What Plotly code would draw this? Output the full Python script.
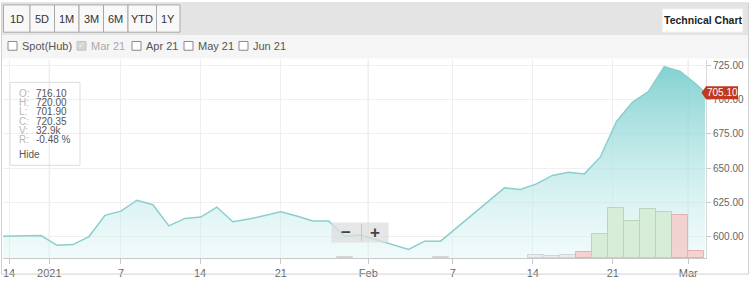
import plotly.graph_objects as go

# ---------------- data ----------------
price_index = list(range(-3, 42))
price = [600.0, 600.0, 600.0, 600.5, 593.4, 593.9, 599.8, 615.3, 618.4, 626.4,
         623.1, 607.6, 613.1, 614.1, 621.4, 610.7, 612.6, 615.1, 617.9, 614.8,
         611.2, 611.2, 600.0, 601.0, 597.4, 593.9, 590.3, 596.4, 596.4, 606.2,
         616.2, 626.2, 635.5, 634.3, 638.4, 644.6, 646.9, 645.7, 658.1, 683.9,
         698.1, 706.0, 724.3, 720.7, 711.3]
last_index = 41.55
last_price = 705.10

volume_index = [19, 25, 31, 32, 33, 34, 35, 36, 37, 38, 39, 40, 41]
volume_k = [0.7, 0.7, 1.9, 1.2, 1.9, 4.2, 17.6, 35.9, 26.5, 35.2, 32.9, 31.3, 4.7]
volume_dir = ["flat", "flat", "flat", "flat", "flat", "down", "up", "up", "up",
              "up", "up", "down", "down"]

tick_index = [-2.0, 0.52, 5.0, 9.95, 15.0, 20.48, 25.76, 30.77, 35.78, 40.5]
tick_labels = ["14", "2021", "7", "14", "21", "Feb", "7", "14", "21", "Mar"]
month_labels = ["2021", "Feb", "Mar"]
y_ticks = [600, 625, 650, 675, 700, 725]

ohlc_labels = ["O:", "H:", "L:", "C:", "V:", "R:"]
ohlc_values = ["716.10", "720.00", "701.90", "720.35", "32.9k", "-0.48 %"]

range_buttons = ["1D", "5D", "1M", "3M", "6M", "YTD", "1Y"]
contracts = ["Spot(Hub)", "Mar 21", "Apr 21", "May 21", "Jun 21"]
contract_checked = [False, True, False, False, False]

# ---------------- geometry ----------------
W, H = 750, 282
ML, MR, MT, MB = 3, 44, 60, 19
PW, PH = W - ML - MR, H - MT - MB
FONT = "Arial, Liberation Sans, sans-serif"


def px(x):
    return (x - ML) / PW


def py(y):
    return (H - MB - y) / PH


def label(x, y, text, size, color, xanchor="center", family=FONT, yref="paper"):
    return dict(xref="paper", yref=yref, x=px(x), y=(py(y) if yref == "paper" else y),
                xanchor=xanchor, yanchor="middle", text=text, showarrow=False,
                font=dict(family=family, size=size, color=color))


fig = go.Figure()

# area + line
xs = price_index + [last_index]
ys = price + [last_price]
fig.add_trace(go.Scatter(
    x=xs, y=ys, mode="lines", fill="tozeroy",
    line=dict(color="rgb(138,206,206)", width=1.5),
    fillgradient=dict(type="vertical", start=584, stop=725,
                      colorscale=[[0, "rgba(220,244,244,0.35)"],
                                  [0.35, "rgba(190,232,232,0.6)"],
                                  [1, "rgba(115,203,203,0.88)"]]),
    hoverinfo="skip", showlegend=False))

# volume bars
fill_map = {"up": "rgba(214,236,214,0.95)", "down": "rgba(242,208,206,0.95)",
            "flat": "rgba(232,236,236,0.95)"}
line_map = {"up": "#b9d6b9", "down": "#e2b2ae", "flat": "#d0d6d6"}
fig.add_trace(go.Bar(
    x=volume_index, y=volume_k, yaxis="y2", width=1,
    marker=dict(color=[fill_map[d] for d in volume_dir],
                line=dict(color=[line_map[d] for d in volume_dir], width=1)),
    hoverinfo="skip", showlegend=False))

shapes = []
annotations = []

# month boundary lines (darker)
for t, lab in zip(tick_index, tick_labels):
    if lab in month_labels:
        shapes.append(dict(type="line", xref="x", yref="paper", x0=t, x1=t,
                           y0=0, y1=1, line=dict(color="#cfcfcf", width=1),
                           layer="below"))

# toolbar backgrounds
shapes.append(dict(type="rect", xref="paper", yref="paper",
                   x0=px(2), x1=px(748), y0=py(2), y1=py(34.5),
                   fillcolor="#e4e4e4", line=dict(width=0), layer="below"))
shapes.append(dict(type="rect", xref="paper", yref="paper",
                   x0=px(2), x1=px(748), y0=py(34.5), y1=py(58.5),
                   fillcolor="#f5f5f5", line=dict(width=0), layer="below"))
# outer border
shapes.append(dict(type="rect", xref="paper", yref="paper",
                   x0=px(1.5), x1=px(748.5), y0=py(1.5), y1=py(279.5),
                   line=dict(color="#d0d0d0", width=1)))

# range buttons
bx = [3.5, 30, 54.5, 79, 103.5, 128, 156.5, 180]
for i, lab in enumerate(range_buttons):
    x0, x1 = bx[i], bx[i + 1]
    shapes.append(dict(type="rect", xref="paper", yref="paper",
                       x0=px(x0), x1=px(x1), y0=py(3.5), y1=py(31.5),
                       fillcolor="#f8f8f8", line=dict(color="#a8a8a8", width=1)))
    annotations.append(label((x0 + x1) / 2, 18, lab, 11, "#333333"))

# Technical chart button
shapes.append(dict(type="rect", xref="paper", yref="paper",
                   x0=px(662), x1=px(743), y0=py(7.5), y1=py(31.5),
                   fillcolor="#ffffff", line=dict(color="#e8e8e8", width=1)))
annotations.append(label(702.5, 19.5, "<b>Technical Chart</b>", 10.5, "#222222"))

# contract checkboxes
cb_x = [8, 77, 132, 184, 239]
for x0, lab, chk in zip(cb_x, contracts, contract_checked):
    shapes.append(dict(type="rect", xref="paper", yref="paper",
                       x0=px(x0), x1=px(x0 + 9), y0=py(41), y1=py(50),
                       fillcolor="#d4d4d4" if chk else "#ffffff",
                       line=dict(color="#c4c4c4" if chk else "#8a8a8a", width=1)))
    if chk:
        annotations.append(label(x0 + 4.5, 45.5, "✓", 8, "#f4f4f4",
                                 family="DejaVu Sans"))
    annotations.append(label(x0 + 11.5, 45.5, lab, 11,
                             "#aaaaaa" if chk else "#555555", xanchor="left"))

# OHLC info box
shapes.append(dict(type="rect", xref="paper", yref="paper",
                   x0=px(10), x1=px(80), y0=py(83), y1=py(168),
                   fillcolor="rgba(255,255,255,0)", line=dict(color="#dddddd", width=1)))
for k, (lab, val) in enumerate(zip(ohlc_labels, ohlc_values)):
    yy = 94.3 + k * 9.45
    annotations.append(label(17, yy, lab, 10, "#b8b8b8", xanchor="left"))
    annotations.append(label(34, yy, val, 10, "#555555", xanchor="left"))
annotations.append(label(17, 156.5, "Hide", 10, "#555555", xanchor="left"))

# zoom -/+ control
shapes.append(dict(type="rect", xref="paper", yref="paper",
                   x0=px(331.5), x1=px(388.5), y0=py(226.5), y1=py(247),
                   fillcolor="rgba(222,222,222,0.75)", line=dict(width=0)))
shapes.append(dict(type="line", xref="paper", yref="paper",
                   x0=px(361.5), x1=px(361.5), y0=py(228), y1=py(245.5),
                   line=dict(color="#c8c8c8", width=1)))
annotations.append(label(346, 236.5, "<b>−</b>", 17, "#444444"))
annotations.append(label(374.5, 236.5, "<b>+</b>", 17, "#444444"))

# last price flag
shapes.append(dict(type="path", xref="paper", yref="y", xsizemode="pixel",
                   ysizemode="pixel", xanchor=1, yanchor=last_price,
                   path="M -4.5,0 L 0,6.5 L 32,6.5 L 32,-6.5 L 0,-6.5 Z",
                   fillcolor="#c0391f", line=dict(width=0)))
annotations.append(label(722, last_price, f"{last_price:.2f}", 10, "#ffffff",
                         yref="y"))

fig.update_layout(
    width=W, height=H,
    margin=dict(l=ML, r=MR, t=MT, b=MB, pad=0),
    paper_bgcolor="#ffffff", plot_bgcolor="#ffffff",
    font=dict(family=FONT),
    showlegend=False,
    bargap=0,
    xaxis=dict(range=[-2.38, 41.61], tickmode="array", tickvals=tick_index,
               ticktext=tick_labels, showgrid=True, gridcolor="#efefef",
               gridwidth=1, zeroline=False, showline=True, linecolor="#c8c8c8",
               ticks="outside", ticklen=5, tickcolor="#c8c8c8",
               tickfont=dict(size=11, color="#666666", family=FONT),
               fixedrange=True),
    yaxis=dict(range=[584.1, 729.1], side="right", tickmode="array",
               tickvals=y_ticks, tickformat=".2f", showgrid=True,
               gridcolor="#efefef", zeroline=False, showline=True,
               linecolor="#d8d8d8", ticks="outside", ticklen=4,
               tickcolor="#c8c8c8",
               tickfont=dict(size=10, color="#666666", family=FONT),
               fixedrange=True),
    yaxis2=dict(range=[0, 143], overlaying="y", visible=False, fixedrange=True),
    shapes=shapes,
    annotations=annotations,
)

fig.write_html("out.html", config={"displayModeBar": False})
